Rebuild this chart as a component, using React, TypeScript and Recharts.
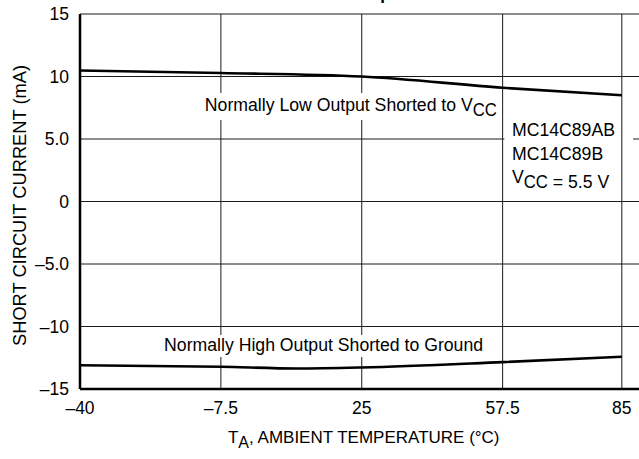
import React from 'react';
import {
  LineChart,
  Line,
  XAxis,
  YAxis,
  CartesianGrid,
  ReferenceArea,
  ReferenceDot,
  Label,
  Customized,
} from 'recharts';

const FONT = '"Liberation Sans", Arial, Helvetica, sans-serif';

// Axis ticks and labels
const xTicks = [-40, -7.5, 25, 57.5, 85];
const xTickLabels = ['–40', '–7.5', '25', '57.5', '85'];
const yTicks = [-15, -10, -5, 0, 5, 10, 15];
const yTickLabels = ['–15', '–10', '–5.0', '0', '5.0', '10', '15'];

// Series: Normally Low Output Shorted to VCC
const lowOutTemp = [-40, -7.5, 25, 57.5, 85];
const lowOutCurrent = [10.48, 10.28, 10.0, 9.1, 8.5];

// Series: Normally High Output Shorted to Ground
const highOutTemp = [-40, -7.5, 10, 25, 57.5, 85];
const highOutCurrent = [-13.1, -13.22, -13.36, -13.28, -12.85, -12.42];

const lowData = lowOutTemp.map((t, i) => ({ t, i: lowOutCurrent[i] }));
const highData = highOutTemp.map((t, i) => ({ t, i: highOutCurrent[i] }));

const SText = (props: any) => {
  const { x, y, size = 17, sx = 1, anchor = 'start', weight, rotate, children } = props;
  const tf = `translate(${x} ${y})${rotate ? ` rotate(${rotate})` : ''} scale(${sx} 1)`;
  return (
    <text
      transform={tf}
      x={0}
      y={0}
      textAnchor={anchor}
      fontFamily={FONT}
      fontSize={size}
      fontWeight={weight}
      fill="#000"
    >
      {children}
    </text>
  );
};

const XTick = (props: any) => {
  const { x, y, payload } = props;
  const idx = xTicks.indexOf(payload.value);
  return (
    <SText x={x} y={y + 25} anchor="middle" size={17.5}>
      {xTickLabels[idx]}
    </SText>
  );
};

const YTick = (props: any) => {
  const { x, y, payload } = props;
  const idx = yTicks.indexOf(payload.value);
  return (
    <SText x={x - 11} y={y + 6} anchor="end" size={17.5}>
      {yTickLabels[idx]}
    </SText>
  );
};

const XTitle = (props: any) => {
  const vb = props.viewBox || { x: 80, y: 389, width: 563.5, height: 70 };
  const cx = vb.x + vb.width * 0.5 + 2;
  const y = vb.y + 54;
  return (
    <SText x={cx} y={y} anchor="middle" size={17}>
      <tspan>T</tspan>
      <tspan dy={5} fontSize={16}>A</tspan>
      <tspan dy={-5}>, AMBIENT TEMPERATURE (°C)</tspan>
    </SText>
  );
};

const YTitle = (props: any) => {
  const vb = props.viewBox || { x: 10, y: 14, width: 70, height: 375 };
  const x = vb.x + 16;
  const y = vb.y + vb.height / 2 + 4;
  return (
    <SText x={x} y={y} anchor="middle" size={18.3} rotate={-90}>
      SHORT CIRCUIT CURRENT (mA)
    </SText>
  );
};

const LowLabel = (props: any) => {
  const { cx, cy } = props;
  return (
    <g>
      <rect x={cx - 5} y={cy - 18} width={300} height={27} fill="#fff" />
      <SText x={cx} y={cy} size={18.5} sx={0.955}>
        <tspan>Normally Low Output Shorted to V</tspan>
        <tspan dy={5} fontSize={17.5}>CC</tspan>
      </SText>
    </g>
  );
};

const HighLabel = (props: any) => {
  const { cx, cy } = props;
  return (
    <g>
      <rect x={cx - 4} y={cy - 16} width={324} height={22} fill="#fff" />
      <SText x={cx} y={cy} size={18.5} sx={0.955}>
        Normally High Output Shorted to Ground
      </SText>
    </g>
  );
};

const DeviceLabel = (props: any) => {
  const { cx, cy } = props;
  return (
    <g>
      <SText x={cx} y={cy} size={18.5} sx={0.955}>
        MC14C89AB
      </SText>
      <SText x={cx} y={cy + 24} size={18.5} sx={0.955}>
        MC14C89B
      </SText>
      <SText x={cx} y={cy + 47} size={18.5} sx={0.955}>
        <tspan>V</tspan>
        <tspan dy={5} fontSize={17.5}>CC</tspan>
        <tspan> = 5.5 V</tspan>
      </SText>
    </g>
  );
};

const Title = () => (
  <SText x={351} y={-0.5} size={17} weight="bold">
    Output Short Circuit Current
  </SText>
);

export default function App() {
  return (
    <div
      style={{
        position: 'fixed',
        left: 0,
        top: 0,
        width: 639,
        height: 459,
        overflow: 'hidden',
        background: '#fff',
      }}
    >
      <LineChart
        width={660}
        height={459}
        margin={{ top: 14, right: 16.5, bottom: 0, left: 10 }}
      >
        <CartesianGrid vertical={false} stroke="#1a1a1a" strokeWidth={1} />
        <ReferenceArea
          x1={57.9}
          x2={87.6}
          y1={0.44}
          y2={6.5}
          fill="#fff"
          fillOpacity={1}
          stroke="none"
          zIndex={-100}
        />
        <CartesianGrid horizontal={false} stroke="#1a1a1a" strokeWidth={1} zIndex={-100} />
        <XAxis
          type="number"
          dataKey="t"
          domain={[-40, 90]}
          ticks={xTicks}
          allowDataOverflow
          height={70}
          tickLine={false}
          tickSize={0}
          tickMargin={0}
          axisLine={{ stroke: '#000', strokeWidth: 2.5 }}
          tick={<XTick />}
        >
          <Label content={<XTitle />} />
        </XAxis>
        <YAxis
          type="number"
          domain={[-15, 15]}
          ticks={yTicks}
          width={70}
          tickLine={false}
          tickSize={0}
          tickMargin={0}
          axisLine={{ stroke: '#000', strokeWidth: 2.5 }}
          tick={<YTick />}
        >
          <Label content={<YTitle />} />
        </YAxis>
        <Line
          data={lowData}
          dataKey="i"
          type="monotone"
          stroke="#000"
          strokeWidth={2.6}
          dot={false}
          isAnimationActive={false}
        />
        <Line
          data={highData}
          dataKey="i"
          type="monotone"
          stroke="#000"
          strokeWidth={2.6}
          dot={false}
          isAnimationActive={false}
        />
        <ReferenceDot x={-11.2} y={7.24} r={0} shape={(p: any) => <LowLabel {...p} />} />
        <ReferenceDot x={-20.6} y={-11.96} r={0} shape={(p: any) => <HighLabel {...p} />} />
        <ReferenceDot x={59.65} y={5.24} r={0} shape={(p: any) => <DeviceLabel {...p} />} />
        <Customized component={Title} />
      </LineChart>
    </div>
  );
}
